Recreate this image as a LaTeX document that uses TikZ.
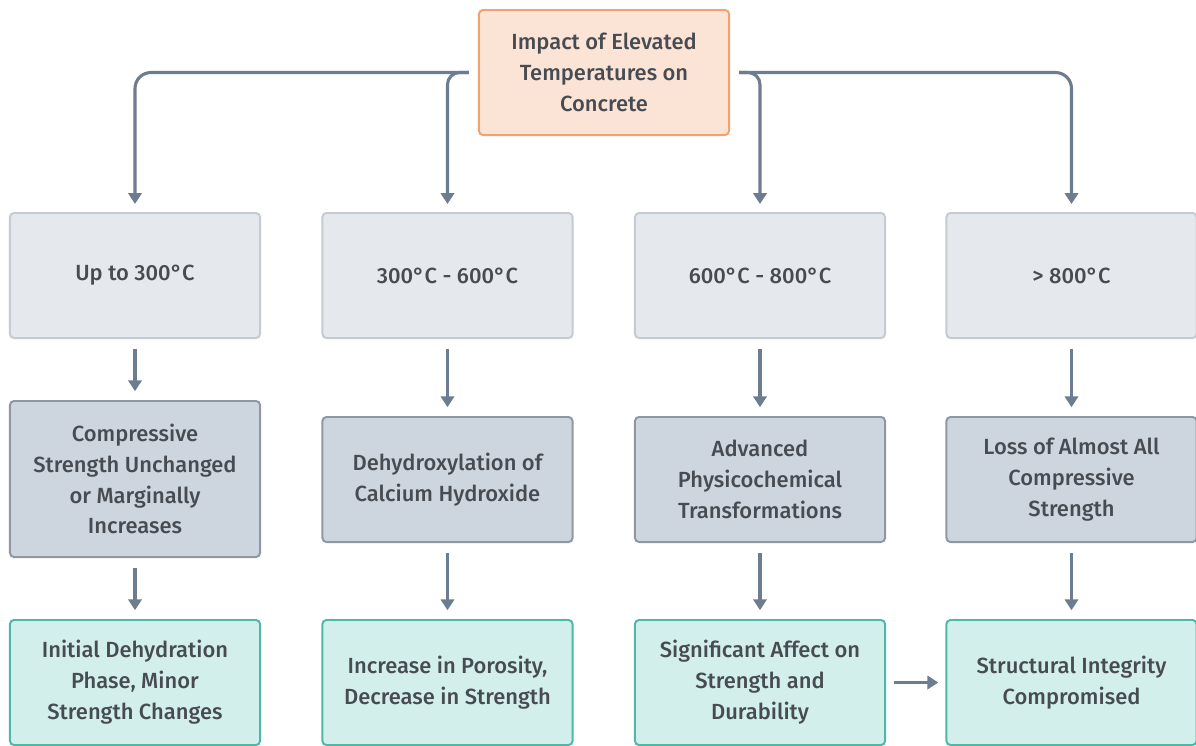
\documentclass[tikz,border=0pt]{standalone}
\usepackage{fontspec}
\setmainfont{Fira Sans}[UprightFont={* Medium}]
\usetikzlibrary{arrows.meta}
\definecolor{topfill}{HTML}{FBE4D5}
\definecolor{topdraw}{HTML}{F0A36E}
\definecolor{lvfill}{HTML}{E5E9ED}
\definecolor{lvdraw}{HTML}{C4CBD2}
\definecolor{dkfill}{HTML}{CDD6DF}
\definecolor{dkdraw}{HTML}{8E98A2}
\definecolor{tlfill}{HTML}{D3EFEC}
\definecolor{tldraw}{HTML}{4DB8A9}
\definecolor{conncol}{HTML}{6B7D8E}
\definecolor{txtcol}{HTML}{474C52}
\tikzset{
  basebox/.style={rectangle, rounded corners=0.1cm, line width=1.4pt, minimum width=6.25cm, minimum height=3.125cm, align=center, text=txtcol, font=\fontsize{15.6}{22}\selectfont, inner sep=2pt},
  topbox/.style={basebox, fill=topfill, draw=topdraw},
  tempbox/.style={basebox, fill=lvfill, draw=lvdraw},
  effbox/.style={basebox, fill=dkfill, draw=dkdraw},
  resbox/.style={basebox, fill=tlfill, draw=tldraw},
  conn/.style={draw=conncol, line width=2.2pt, -{Triangle[length=0.27cm,width=0.33cm]}},
}
\begin{document}
\begin{tikzpicture}[x=0.025cm,y=-0.025cm]
\useasboundingbox (0,0) rectangle (1196,745);
\node[topbox] (top) at (604,72.5) {Impact of Elevated\\Temperatures on\\Concrete};
\node[tempbox] (t1) at (135,275.5) {Up to 300°C};
\node[tempbox] (t2) at (447.5,275.5) {300°C - 600°C};
\node[tempbox] (t3) at (760,275.5) {600°C - 800°C};
\node[tempbox] (t4) at (1071.5,275.5) {> 800°C};
\node[effbox, minimum height=3.9cm] (e1) at (135,479) {Compressive\\Strength Unchanged\\or Marginally\\Increases};
\node[effbox] (e2) at (447.5,479.5) {Dehydroxylation of\\Calcium Hydroxide};
\node[effbox] (e3) at (760,479.5) {Advanced\\Physicochemical\\Transformations};
\node[effbox] (e4) at (1071.5,479.5) {Loss of Almost All\\Compressive\\Strength};
\node[resbox] (r1) at (135,682.5) {Initial Dehydration\\Phase, Minor\\Strength Changes};
\node[resbox] (r2) at (447.5,682.5) {Increase in Porosity,\\Decrease in Strength};
\node[resbox] (r3) at (760,682.5) {Significant Affect on\\Strength and\\Durability};
\node[resbox] (r4) at (1071.5,682.5) {Structural Integrity\\Compromised};
% top connectors
\draw[conn, rounded corners=0.4cm, shorten <=0.225cm, shorten >=0.2cm] (top.west) -| (t1.north);
\draw[conn, rounded corners=0.3cm, shorten <=0.225cm, shorten >=0.2cm] (top.west) -| (t2.north);
\draw[conn, rounded corners=0.3cm, shorten <=0.225cm, shorten >=0.2cm] (top.east) -| (t3.north);
\draw[conn, rounded corners=0.4cm, shorten <=0.225cm, shorten >=0.2cm] (top.east) -| (t4.north);
% row 1 -> row 2
\foreach \a/\b in {t1/e1,t2/e2,t3/e3,t4/e4}
  \draw[conn, shorten <=0.25cm, shorten >=0.22cm] (\a.south) -- (\b.north);
% row 2 -> row 3
\foreach \a/\b in {e1/r1,e2/r2,e3/r3,e4/r4}
  \draw[conn, shorten <=0.25cm, shorten >=0.22cm] (\a.south) -- (\b.north);
\draw[conn, shorten <=0.2cm, shorten >=0.18cm] (r3.east) -- (r4.west);
\end{tikzpicture}
\end{document}
